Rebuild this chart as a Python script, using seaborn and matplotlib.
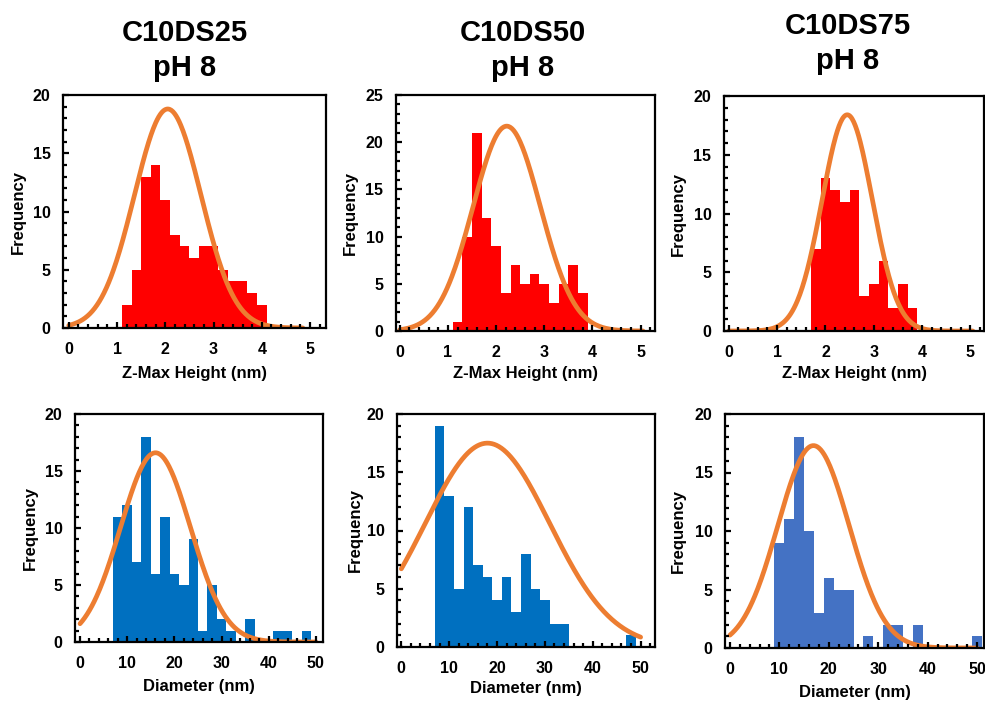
import numpy as np
import pandas as pd
import matplotlib
matplotlib.use("Agg")
import matplotlib.pyplot as plt
from matplotlib.ticker import MultipleLocator
import seaborn as sns

# =========================================
# DATA
# =========================================

titles = ["C10DS25", "C10DS50", "C10DS75"]
subtitle = "pH 8"

# Z-max height histograms (bin width 0.2 nm)
height_bin_start = [1.1, 1.1, 1.7]
height_bin_width = 0.2
height_counts_25 = [2, 5, 13, 14, 11, 8, 7, 6, 7, 7, 5, 4, 4, 3, 2]
height_counts_50 = [1, 10, 21, 12, 9, 4, 7, 5, 6, 5, 3, 5, 7, 4]
height_counts_75 = [7, 13, 12, 11, 12, 3, 4, 6, 2, 4, 2]

# Diameter histograms (bin width 2 nm)
diam_bin_start = [7, 7, 9]
diam_bin_width = 2
diam_counts_25 = [11, 12, 7, 18, 6, 11, 6, 5, 9, 1, 5, 2, 1, 0, 2, 0, 0, 1, 1, 0, 1]
diam_counts_50 = [19, 13, 5, 12, 7, 6, 4, 6, 3, 8, 5, 4, 2, 2, 0, 0, 0, 0, 0, 0, 1]
diam_counts_75 = [9, 11, 18, 10, 3, 6, 5, 5, 0, 1, 0, 2, 2, 0, 2, 0, 0, 0, 0, 0, 1]

# normal-fit curves drawn over each histogram: mean, sd, peak height, x range
height_fit_mean = [2.05, 2.22, 2.45]
height_fit_sd = [0.69, 0.70, 0.52]
height_fit_peak = [18.8, 21.7, 18.4]
height_fit_range = [(0.0, 4.85), (0.0, 5.05), (0.0, 5.05)]

diam_fit_mean = [16.0, 18.0, 16.9]
diam_fit_sd = [7.4, 13.0, 7.2]
diam_fit_peak = [16.6, 17.5, 17.3]
diam_fit_range = [(0.0, 50.0), (0.0, 50.0), (0.0, 50.0)]

# =========================================
# STYLE
# =========================================

sns.set_style("white")
plt.rcParams["font.family"] = ["Liberation Sans", "DejaVu Sans"]
plt.rcParams["font.weight"] = "bold"
plt.rcParams["text.color"] = "black"
plt.rcParams["axes.labelcolor"] = "black"
plt.rcParams["xtick.color"] = "black"
plt.rcParams["ytick.color"] = "black"

RED = "#FF0000"
BLUE = "#0070C0"
BLUE_LIGHT = "#4472C4"
ORANGE = "#ED7D31"

W, H = 985, 701
fig = plt.figure(figsize=(W / 100, H / 100), dpi=100)


def px_axes(left, top, right, bottom):
    return fig.add_axes([left / W, 1 - bottom / H, (right - left) / W, (bottom - top) / H])


def style_axes(ax, box, xminor, ymax, xlim, xlabel, xlabel_y, ylabel_x):
    left, top, right, bottom = box
    ax.set_axisbelow(False)
    ax.set_xlim(*xlim)
    ax.set_ylim(0, ymax)
    ax.yaxis.set_major_locator(MultipleLocator(5))
    ax.yaxis.set_minor_locator(MultipleLocator(1))
    ax.xaxis.set_minor_locator(MultipleLocator(xminor))
    ax.tick_params(which="both", direction="in", top=False, right=False,
                   bottom=True, left=True, width=1.6, color="black")
    ax.tick_params(which="major", length=4.5)
    ax.tick_params(which="minor", length=2.8)
    ax.tick_params(axis="y", pad=9, labelsize=11.5)
    ax.tick_params(axis="x", pad=10, labelsize=11.5)
    for lab in ax.get_xticklabels() + ax.get_yticklabels():
        lab.set_fontweight("bold")
    for side in ["left", "bottom", "top", "right"]:
        ax.spines[side].set_visible(True)
        ax.spines[side].set_color("black")
        ax.spines[side].set_linewidth(1.6)
    ax.set_xlabel(xlabel, fontsize=12, fontweight="bold")
    ax.set_ylabel("Frequency", fontsize=12, fontweight="bold")
    ax.xaxis.label.set_va("center")
    ax.yaxis.label.set_va("center")
    ax.xaxis.set_label_coords(0.5, (bottom - xlabel_y) / (bottom - top))
    ax.yaxis.set_label_coords((ylabel_x - left) / (right - left), 0.5)


def draw_hist(ax, start, width, counts, color):
    n = len(counts)
    centers = [start + width * (i + 0.5) for i in range(n)]
    df = pd.DataFrame({"x": centers, "count": counts})
    sns.histplot(data=df, x="x", weights="count", binwidth=width,
                 binrange=(start, start + width * n), color=color,
                 alpha=1, linewidth=0, edgecolor=None, ax=ax)


def draw_fit(ax, mean, sd, peak, xr):
    xs = np.linspace(xr[0], xr[1], 300)
    ys = peak * np.exp(-(xs - mean) ** 2 / (2 * sd ** 2))
    sns.lineplot(x=xs, y=ys, color=ORANGE, linewidth=3.4, ax=ax,
                 solid_capstyle="round")


# =========================================
# TOP ROW - Z-MAX HEIGHT
# =========================================

top_boxes = [(63, 95, 326, 328), (396, 95, 655, 331), (724, 96, 984, 331)]
top_xlims = [(-0.12, 5.33), (-0.08, 5.3), (-0.1, 5.28)]
top_ymax = [20, 25, 20]
top_ylabel_x = [18, 350, 678]
height_counts = [height_counts_25, height_counts_50, height_counts_75]

for i in range(3):
    ax = px_axes(*top_boxes[i])
    draw_hist(ax, height_bin_start[i], height_bin_width, height_counts[i], RED)
    draw_fit(ax, height_fit_mean[i], height_fit_sd[i], height_fit_peak[i],
             height_fit_range[i])
    style_axes(ax, top_boxes[i], 0.2, top_ymax[i], top_xlims[i],
               "Z-Max Height (nm)", 373, top_ylabel_x[i])
    ax.set_xticks([0, 1, 2, 3, 4, 5])

# =========================================
# BOTTOM ROW - DIAMETER
# =========================================

bot_boxes = [(75, 414, 323, 642), (397, 414, 655, 647), (725, 414, 984, 648)]
bot_xlims = [(-1.06, 51.5), (-0.9, 53.0), (-1.0, 51.4)]
bot_xlabel_y = [687, 688, 692]
bot_ylabel_x = [30, 355, 678]
diam_counts = [diam_counts_25, diam_counts_50, diam_counts_75]
diam_colors = [BLUE, BLUE, BLUE_LIGHT]

for i in range(3):
    ax = px_axes(*bot_boxes[i])
    draw_hist(ax, diam_bin_start[i], diam_bin_width, diam_counts[i], diam_colors[i])
    draw_fit(ax, diam_fit_mean[i], diam_fit_sd[i], diam_fit_peak[i],
             diam_fit_range[i])
    style_axes(ax, bot_boxes[i], 2, 20, bot_xlims[i], "Diameter (nm)",
               bot_xlabel_y[i], bot_ylabel_x[i])
    ax.set_xticks([0, 10, 20, 30, 40, 50])

# =========================================
# COLUMN TITLES
# =========================================

title_x = [185, 523, 848]
title_y1 = [41, 41, 34]
title_y2 = [76, 76, 69]

for i in range(3):
    fig.text(title_x[i] / W, 1 - title_y1[i] / H, titles[i], ha="center",
             va="baseline", fontsize=21, fontweight="bold")
    fig.text(title_x[i] / W, 1 - title_y2[i] / H, subtitle, ha="center",
             va="baseline", fontsize=21, fontweight="bold")

fig.savefig("out.png", dpi=100)
